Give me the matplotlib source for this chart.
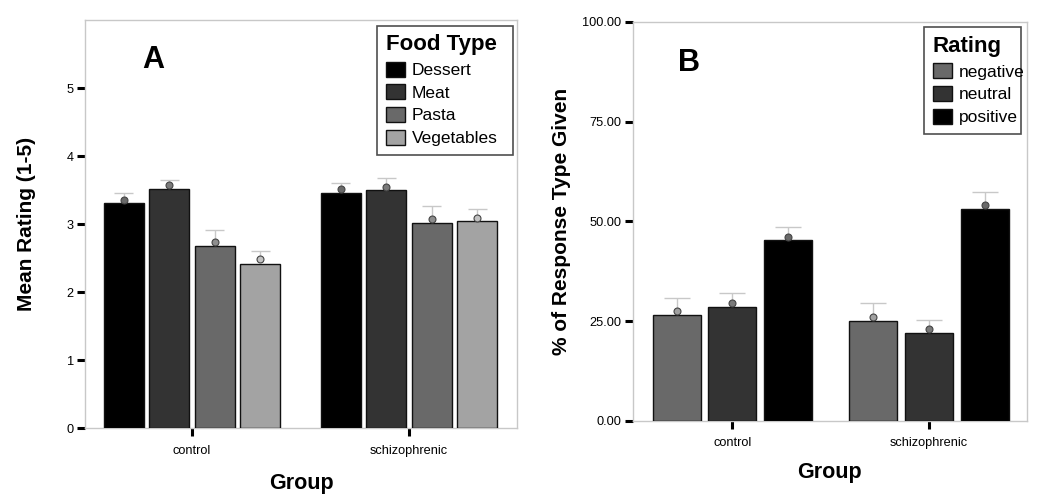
import matplotlib
matplotlib.use("Agg")
import matplotlib.pyplot as plt
import numpy as np
from matplotlib.patches import Patch

plt.rcParams['font.family'] = ['Liberation Sans', 'DejaVu Sans']

# ---------- data ----------
groups = ["control", "schizophrenic"]

food_types = ["Dessert", "Meat", "Pasta", "Vegetables"]
food_colors = ["#000000", "#333333", "#696969", "#a3a3a3"]
food_dot_colors = ["#6a6a6a", "#7a7a7a", "#8e8e8e", "#c2c2c2"]
food_bars = {
    "Dessert": [3.31, 3.46],
    "Meat": [3.51, 3.50],
    "Pasta": [2.68, 3.02],
    "Vegetables": [2.41, 3.04],
}
food_dots = {
    "Dessert": [3.36, 3.51],
    "Meat": [3.57, 3.55],
    "Pasta": [2.74, 3.07],
    "Vegetables": [2.48, 3.09],
}
food_upper = {
    "Dessert": [3.45, 3.60],
    "Meat": [3.64, 3.68],
    "Pasta": [2.91, 3.26],
    "Vegetables": [2.60, 3.22],
}

ratings = ["negative", "neutral", "positive"]
rating_colors = ["#696969", "#333333", "#000000"]
rating_dot_colors = ["#a0a0a0", "#7a7a7a", "#6a6a6a"]
rating_bars = {
    "negative": [26.6, 25.0],
    "neutral": [28.6, 22.0],
    "positive": [45.2, 53.2],
}
rating_dots = {
    "negative": [27.5, 26.1],
    "neutral": [29.5, 23.0],
    "positive": [46.1, 54.0],
}
rating_upper = {
    "negative": [30.7, 29.5],
    "neutral": [32.0, 25.3],
    "positive": [48.6, 57.3],
}

W, H = 1050, 498
fig = plt.figure(figsize=(W / 100, H / 100), dpi=100)


def fx(px):
    return px / W


def fy(py):
    return 1 - py / H


spine_col = "#c8c8c8"
err_col = "#c8c8c8"


def style_axes(ax):
    for s in ax.spines.values():
        s.set_color(spine_col)
        s.set_linewidth(1.0)
    ax.tick_params(axis='both', direction='out', color='black', width=2.2,
                   labelsize=9.2, pad=2)
    ax.tick_params(axis='y', length=6)
    ax.tick_params(axis='x', length=6, pad=6)


def draw_series(ax, xs, bars, dots, upper, color, dot_color, width, cap_frac):
    ax.bar(xs, bars, width=width, color=color, edgecolor="#111111",
           linewidth=1.0, zorder=3)
    dots = np.asarray(dots)
    upper = np.asarray(upper)
    ax.vlines(xs, dots, upper, color=err_col, linewidth=1.0, zorder=2)
    half = width * cap_frac / 2
    ax.hlines(upper, xs - half, xs + half, color=err_col, linewidth=1.0, zorder=2)
    ax.plot(xs, dots, 'o', ms=5, mfc=dot_color, mec="#444444", mew=0.8, zorder=4)


leg_kw = dict(loc='upper left', bbox_transform=fig.transFigure, mode='expand',
              fontsize=12.5, title_fontproperties={'weight': 'bold', 'size': 16},
              frameon=True, fancybox=False, edgecolor='#222222',
              handlelength=1.1, handleheight=0.95, handletextpad=0.4,
              labelspacing=0.36, borderpad=0.5, borderaxespad=0)

# ---------- Panel A ----------
axA = fig.add_axes([fx(85), fy(428), fx(517 - 85), (428 - 20) / H])
x = np.arange(len(groups))
spacing = 0.21
widthA = 0.184
for i, ft in enumerate(food_types):
    xs = x + (i - 1.5) * spacing
    draw_series(axA, xs, food_bars[ft], food_dots[ft], food_upper[ft],
                food_colors[i], food_dot_colors[i], widthA, 0.48)
axA.set_xlim(-0.493, 1.498)
axA.set_ylim(0, 6)
axA.set_yticks([0, 1, 2, 3, 4, 5])
axA.set_xticks(x)
axA.set_xticklabels(groups)
style_axes(axA)
axA.set_ylabel("Mean Rating (1-5)", fontsize=15, fontweight='bold', labelpad=22)
axA.set_xlabel("Group", fontsize=15.5, fontweight='bold', labelpad=12)
axA.text(0.158, 0.902, "A", transform=axA.transAxes, fontsize=22,
         fontweight='bold', ha='center', va='center')
handlesA = [Patch(facecolor=c, edgecolor="#111111", linewidth=1.0) for c in food_colors]
legA = axA.legend(handlesA, food_types, title="Food Type",
                  bbox_to_anchor=(fx(377), fy(157), fx(513 - 377), (157 - 25.7) / H),
                  **leg_kw)
legA.get_frame().set_linewidth(1.2)
legA._legend_box.align = "left"

# ---------- Panel B ----------
axB = fig.add_axes([fx(632.7), fy(420.7), fx(1026.7 - 632.7), (420.7 - 22) / H])
spacingB = 0.283
widthB = 0.244
for i, r in enumerate(ratings):
    xs = x + (i - 1) * spacingB
    draw_series(axB, xs, rating_bars[r], rating_dots[r], rating_upper[r],
                rating_colors[i], rating_dot_colors[i], widthB, 0.54)
axB.set_xlim(-0.506, 1.497)
axB.set_ylim(0, 100)
axB.set_yticks([0, 25, 50, 75, 100])
axB.set_yticklabels(["%.2f" % v for v in [0, 25, 50, 75, 100]])
axB.set_xticks(x)
axB.set_xticklabels(groups)
style_axes(axB)
axB.set_ylabel("% of Response Type Given", fontsize=15, fontweight='bold', labelpad=8)
axB.set_xlabel("Group", fontsize=15.5, fontweight='bold', labelpad=9)
axB.text(0.142, 0.897, "B", transform=axB.transAxes, fontsize=22,
         fontweight='bold', ha='center', va='center')
handlesB = [Patch(facecolor=c, edgecolor="#111111", linewidth=1.0) for c in rating_colors]
legB = axB.legend(handlesB, ratings, title="Rating",
                  bbox_to_anchor=(fx(924.3), fy(131), fx(1021 - 924.3), (131 - 27.3) / H),
                  **leg_kw)
legB.get_frame().set_linewidth(1.2)
legB._legend_box.align = "left"

fig.savefig("out.png", dpi=100)
